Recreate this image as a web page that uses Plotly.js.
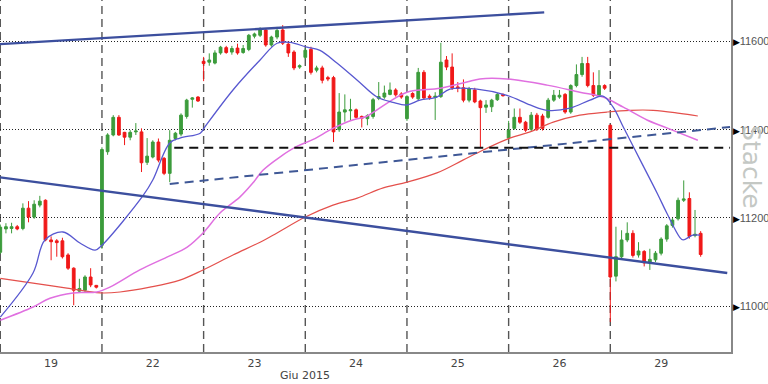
<!DOCTYPE html>
<html>
<head>
<meta charset="utf-8">
<script src="https://cdn.plot.ly/plotly-3.0.1.min.js"></script>
<style>html,body{margin:0;padding:0;background:#fff;}#chart{width:768px;height:384px;}</style>
</head>
<body>
<div id="chart"></div>
<script>
// ---- DATA ----
const dayLabels = ["19", "22", "23", "24", "25", "26", "29"];
const barsPerDay = 18;
const periodLabel = "Giu 2015";
const watermark = "Stacke";

// 30-minute candles, grouped by day
const open = [
  11122,11175,11176,11180,11176,11222,11202,11229,11240,11150,11148,11148,11116,11086,11034,11036,11066,11047,
  11138,11350,11388,11428,11394,11383,11395,11395,11326,11338,11372,11335,11301,11380,11390,11430,11469,11474,
  11555,11553,11551,11574,11586,11576,11585,11575,11582,11612,11614,11626,11592,11610,11626,11594,11576,11542,
  11564,11582,11535,11540,11518,11518,11400,11440,11443,11445,11430,11425,11430,11471,11474,11480,11490,11481,
  11425,11482,11470,11530,11476,11473,11475,11558,11542,11497,11495,11467,11490,11465,11451,11452,11468,11480,
  11381,11403,11428,11417,11401,11433,11431,11428,11467,11474,11480,11440,11500,11525,11550,11500,11478,11500,
  11410,11068,11112,11150,11165,11116,11124,11100,11105,11120,11152,11183,11198,11240,11244,11160,11165
];
const high = [
  11185,11188,11189,11184,11233,11238,11240,11250,11242,11158,11152,11155,11120,11088,11062,11070,11086,11048,
  11360,11392,11433,11433,11395,11399,11415,11403,11381,11376,11380,11338,11399,11395,11437,11470,11474,11476,
  11565,11573,11580,11590,11590,11590,11595,11592,11617,11620,11632,11630,11613,11633,11637,11600,11580,11548,
  11585,11588,11545,11545,11522,11522,11483,11480,11470,11448,11432,11435,11472,11508,11500,11507,11494,11485,
  11478,11485,11540,11535,11480,11485,11597,11567,11573,11508,11514,11497,11495,11468,11467,11470,11483,11482,
  11420,11448,11448,11420,11440,11438,11436,11472,11490,11490,11483,11503,11548,11565,11565,11530,11535,11503,
  11412,11180,11172,11190,11172,11145,11127,11130,11125,11156,11186,11200,11246,11285,11258,11218,11170
];
const low = [
  11118,11165,11165,11172,11172,11190,11198,11224,11147,11104,11112,11108,11082,11002,11030,11030,11043,11040,
  11130,11343,11385,11386,11365,11376,11388,11304,11320,11335,11326,11297,11281,11376,11385,11425,11450,11463,
  11510,11545,11548,11570,11572,11570,11570,11572,11578,11607,11610,11588,11588,11605,11592,11565,11535,11538,
  11560,11525,11530,11505,11510,11372,11395,11418,11420,11425,11405,11410,11425,11467,11470,11478,11475,11470,
  11420,11470,11465,11468,11468,11422,11472,11535,11490,11485,11462,11462,11460,11360,11438,11440,11465,11475,
  11378,11400,11413,11395,11397,11397,11398,11425,11463,11470,11436,11436,11496,11520,11496,11474,11474,11490,
  10964,11056,11106,11145,11110,11110,11090,11082,11100,11115,11146,11178,11194,11236,11153,11156,11112
];
const close = [
  11179,11180,11180,11175,11222,11202,11231,11238,11150,11146,11144,11112,11086,11036,11040,11066,11048,11043,
  11355,11388,11428,11388,11383,11394,11397,11325,11340,11372,11331,11301,11376,11392,11433,11467,11472,11465,
  11550,11558,11574,11587,11575,11584,11574,11584,11614,11617,11626,11592,11610,11625,11596,11574,11540,11545,
  11580,11530,11540,11512,11515,11395,11440,11445,11445,11428,11426,11432,11468,11475,11483,11490,11479,11474,
  11475,11474,11530,11472,11473,11476,11553,11542,11495,11494,11467,11493,11463,11450,11456,11467,11480,11477,
  11399,11428,11417,11399,11433,11401,11403,11467,11478,11478,11440,11500,11525,11550,11500,11478,11500,11494,
  11066,11112,11150,11165,11115,11125,11098,11106,11120,11152,11182,11195,11240,11243,11158,11163,11117
];

// moving averages (bar index, value)
const maFastX = [0,5.8,7.9,11.1,14.1,16.8,18,25.3,27,30,31.8,35.4,36.2,41.2,46,49,51.3,54.3,56.6,59.6,63.2,66.7,69.5,72,74.3,77.3,79.6,84.4,89.7,93.8,96.8,100.9,104.4,106.7,108.5,110.3,113.3,116.3,118,120.3,120.9,122.6,123.9];
const maFastY = [10975,11075,11150,11168,11143,11127,11138,11251,11286,11370,11381,11392,11406,11490,11558,11596,11598,11587,11580,11551,11512,11474,11462,11456,11467,11474,11492,11492,11478,11456,11444,11449,11467,11476,11451,11406,11331,11256,11211,11156,11150,11161,11161];
const maMidX = [0,5.8,8.8,12.9,17.1,19.4,24.7,29.5,33.1,35.9,38.9,42.4,44.7,46.5,49.5,52.5,55.4,58.9,62.4,64.8,68.5,72,77.9,82.6,84.9,89.7,96.8,102.6,106.7,110.3,114.5,118,123.5];
const maMidY = [10968,10998,11018,11030,11032,11043,11082,11111,11134,11166,11211,11247,11279,11308,11338,11362,11378,11403,11422,11430,11460,11485,11494,11508,11515,11515,11501,11485,11474,11451,11422,11404,11376];
const maSlowX = [0,5.8,11.8,17.7,21.2,26.5,31.8,35.9,41.2,46,49,54,58.9,63.2,67.8,72,77.3,81.9,85.5,90.2,93.8,97.9,102.6,107.4,111.5,115.6,120.3,123.5];
const maSlowY = [11063,11052,11041,11030,11032,11043,11059,11082,11116,11145,11166,11202,11229,11245,11268,11281,11302,11331,11354,11381,11395,11417,11433,11440,11444,11444,11437,11431];

// trend lines (bar index, value)
const upperLineX = [-0.05, 96.3];
const upperLineY = [11594, 11666];
const lowerLineX = [-0.05, 128.7];
const lowerLineY = [11292, 11075];
const riseLineX = [30.0, 129.2];
const riseLineY = [11277, 11406];
const levelLineX = [30.8, 129.2];
const levelLineY = [11359, 11359];

const yTicks = [11000, 11200, 11400, 11600];

// ---- BUILD ----
const idx = open.map((_, i) => i);
const tickPos = dayLabels.map((_, d) => d * barsPerDay + 9);
const seps = dayLabels.map((_, d) => d * barsPerDay);

const traces = [
  {type: 'candlestick', x: idx, open: open, high: high, low: low, close: close,
   increasing: {line: {color: '#3c9c3c', width: 1}, fillcolor: '#3c9c3c'},
   decreasing: {line: {color: '#f01818', width: 1}, fillcolor: '#f01818'},
   whiskerwidth: 0, showlegend: false, hoverinfo: 'skip'},
  {type: 'scatter', mode: 'lines', x: maSlowX, y: maSlowY, line: {color: '#e4504c', width: 1.2, shape: 'spline'}, showlegend: false},
  {type: 'scatter', mode: 'lines', x: maMidX, y: maMidY, line: {color: '#e070e0', width: 1.5, shape: 'spline'}, showlegend: false},
  {type: 'scatter', mode: 'lines', x: maFastX, y: maFastY, line: {color: '#5858d0', width: 1.3, shape: 'spline'}, showlegend: false},
  {type: 'scatter', mode: 'lines', x: upperLineX, y: upperLineY, line: {color: '#3c4f9e', width: 2.4}, showlegend: false},
  {type: 'scatter', mode: 'lines', x: lowerLineX, y: lowerLineY, line: {color: '#3c4f9e', width: 2.4}, showlegend: false},
  {type: 'scatter', mode: 'lines', x: riseLineX, y: riseLineY, line: {color: '#3f5896', width: 2, dash: '9px,6px'}, showlegend: false},
  {type: 'scatter', mode: 'lines', x: levelLineX, y: levelLineY, line: {color: '#111', width: 2.2, dash: '9px,6px'}, showlegend: false}
];

const shapes = seps.map(s => ({type: 'line', xref: 'x', yref: 'paper', x0: s, x1: s, y0: 0, y1: 1,
  line: {color: '#555', width: 1.4, dash: '8px,5px'}, layer: 'below'}));

const layout = {
  width: 768, height: 384,
  margin: {l: 0, r: 37, t: 0, b: 32, pad: 0},
  paper_bgcolor: '#fff', plot_bgcolor: '#fff',
  font: {family: 'DejaVu Sans, sans-serif', size: 11, color: '#444'},
  xaxis: {range: [-0.05, 129.37], tickmode: 'array', tickvals: tickPos, ticktext: dayLabels,
    showgrid: false, zeroline: false, ticks: '', showline: true, linecolor: '#888', linewidth: 1.5,
    rangeslider: {visible: false}, tickfont: {size: 11, color: '#444'}, fixedrange: true},
  yaxis: {side: 'right', range: [10896, 11694], tickmode: 'array', tickvals: yTicks,
    ticktext: yTicks.map(v => '<span style="color:#000;font-size:9px">▶</span>' + v),
    showgrid: true, gridcolor: '#222', gridwidth: 1, griddash: '1px,2px', zeroline: false,
    ticks: '', ticklabelstandoff: -2, showline: true, linecolor: '#888', linewidth: 1.5,
    tickfont: {size: 11, color: '#555', family: 'Liberation Sans, Arial, sans-serif'}, fixedrange: true},
  shapes: shapes,
  annotations: [
    {text: periodLabel, xref: 'x', yref: 'paper', x: 3 * barsPerDay, y: -0.068, showarrow: false,
     font: {size: 11, color: '#444'}, xanchor: 'center', yanchor: 'middle'},
    {text: watermark, xref: 'paper', yref: 'paper', x: 1.029, y: 0.525, showarrow: false, textangle: 90,
     font: {size: 25, color: '#c4c8c4', family: 'DejaVu Sans, sans-serif'}, xanchor: 'center', yanchor: 'middle'}
  ],
  showlegend: false
};

Plotly.newPlot('chart', traces, layout, {displayModeBar: false, staticPlot: true});
</script>
</body>
</html>
